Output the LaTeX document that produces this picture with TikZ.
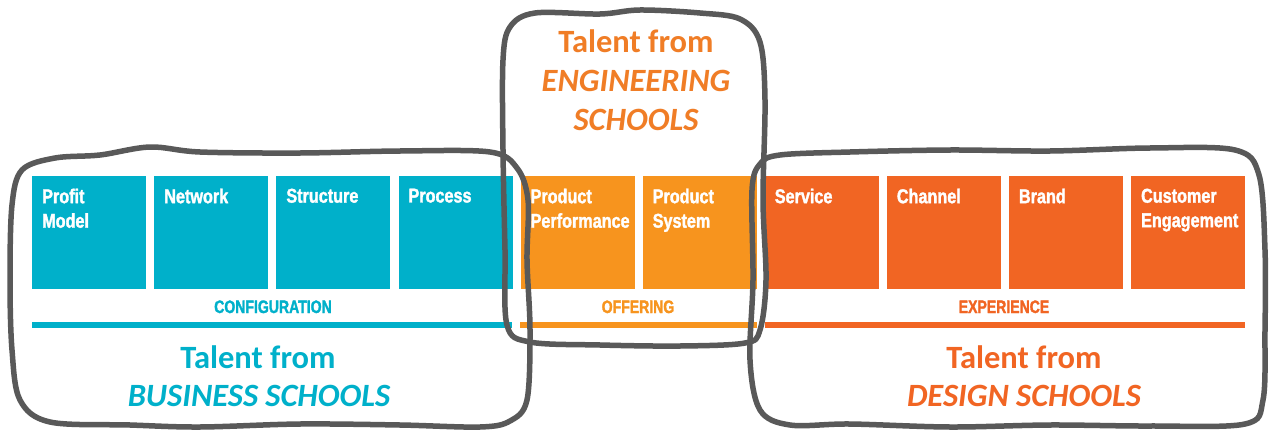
\documentclass[tikz,border=0pt]{standalone}
\usepackage{fontspec}
\setmainfont{Carlito}
\newfontfamily\boxfont[FakeStretch=0.81,FakeBold=1.6]{Liberation Sans Bold}
\newfontfamily\catfont[FakeStretch=0.78,FakeBold=1.6]{Liberation Sans Bold}
\newfontfamily\titlefont{Carlito}
\definecolor{cteal}{RGB}{0,176,202}
\definecolor{clorange}{RGB}{247,148,30}
\definecolor{cdorange}{RGB}{241,101,35}
\definecolor{cengtitle}{RGB}{240,125,38}
\definecolor{cgrey}{RGB}{89,89,89}
\tikzset{
  tile/.style={rectangle, inner sep=0pt, minimum width=114pt, minimum height=113pt, anchor=north west},
  tlabel/.style={anchor=north west, inner sep=0pt, text=white, align=left,
    font={\boxfont\fontsize{20pt}{24.5pt}\selectfont}},
  catlabel/.style={anchor=base, inner sep=0pt, font={\catfont\fontsize{18pt}{20pt}\selectfont}},
  bar/.style={line width=6.5pt},
  title/.style={anchor=base, inner sep=0pt, font={\titlefont\bfseries\fontsize{32.5pt}{38pt}\selectfont}},
  ititle/.style={title, font={\titlefont\bfseries\itshape\fontsize{32.5pt}{38pt}\selectfont}},
  outline/.style={draw=cgrey, line width=5.5pt, line join=round}
}
\begin{document}
\begin{tikzpicture}[x=1pt,y=-1pt]
\useasboundingbox[fill=white] (0,0) rectangle (1269,431);

% tiles
\node[tile, fill=cteal] (t1) at (32,176) {};
\node[tile, fill=cteal] (t2) at (154.1,176) {};
\node[tile, fill=cteal] (t3) at (276.2,176) {};
\node[tile, fill=cteal] (t4) at (398.3,176) {};
\node[tile, fill=clorange] (t5) at (520.4,176) {};
\node[tile, fill=clorange] (t6) at (642.5,176) {};
\node[tile, fill=cdorange] (t7) at (764.6,176) {};
\node[tile, fill=cdorange] (t8) at (886.7,176) {};
\node[tile, fill=cdorange] (t9) at (1008.8,176) {};
\node[tile, fill=cdorange] (t10) at (1130.9,176) {};

% tile labels
\node[tlabel] (l1) at (42,188.5) {Profit\\Model};
\node[tlabel] (l2) at (164.1,188.5) {Network};
\node[tlabel] (l3) at (286.2,188.5) {Structure};
\node[tlabel] (l4) at (408.3,188.5) {Process};
\node[tlabel] (l5) at (530.4,188.5) {Product\\Performance};
\node[tlabel] (l6) at (652.5,188.5) {Product\\System};
\node[tlabel] (l7) at (774.6,188.5) {Service};
\node[tlabel] (l8) at (896.7,188.5) {Channel};
\node[tlabel] (l9) at (1018.8,188.5) {Brand};
\node[tlabel] (l10) at (1140.9,188.5) {Customer\\Engagement};

% category labels
\node[catlabel, text=cteal] (cconf) at (273,313) {CONFIGURATION};
\node[catlabel, text=clorange] (coff) at (638,313) {OFFERING};
\node[catlabel, text=cdorange] (cexp) at (1004,313) {EXPERIENCE};

% bars
\coordinate (b1a) at (32,325); \coordinate (b1b) at (512.3,325);
\coordinate (b2a) at (520.4,325); \coordinate (b2b) at (756.5,325);
\coordinate (b3a) at (764.6,325); \coordinate (b3b) at (1244.9,325);
\draw[bar, cteal] (b1a) -- (b1b);
\draw[bar, clorange] (b2a) -- (b2b);
\draw[bar, cdorange] (b3a) -- (b3b);

% titles
\node[title, text=cteal] (bt1) at (258,368) {Talent from};
\node[ititle, text=cteal] (bt2) at (259,406) {BUSINESS SCHOOLS};
\node[title, text=cengtitle] (et1) at (636,52) {Talent from};
\node[ititle, text=cengtitle] (et2) at (636,91) {ENGINEERING};
\node[ititle, text=cengtitle] (et3) at (636,130) {SCHOOLS};
\node[title, text=cdorange] (dt1) at (1024,368) {Talent from};
\node[ititle, text=cdorange] (dt2) at (1024,406) {DESIGN SCHOOLS};

% hand-drawn outlines
\draw[outline] plot[smooth cycle, tension=0.55] coordinates {
  (12,205) (22,170) (55,158) (100,155) (150,147) (200,152) (300,153) (400,151) (490,152)
  (517,168) (528,200) (527,260) (530,330) (527,400) (510,421) (480,427) (400,425)
  (300,424) (200,427) (130,425) (50,422) (20,400) (12,350) (10,280)};
\draw[outline] plot[smooth cycle, tension=0.55] coordinates {
  (503,60) (510,27) (535,13) (600,14) (640,10) (700,13) (740,19) (760,42) (765,100)
  (763,200) (766,280) (760,330) (745,343) (680,346) (600,345) (530,342) (507,325)
  (505,250) (503,150)};
\draw[outline] plot[smooth cycle, tension=0.55] coordinates {
  (752,190) (760,164) (780,155) (850,152) (950,150) (1050,151) (1150,148) (1235,150)
  (1259,175) (1265,250) (1265,330) (1263,400) (1245,424) (1150,426) (1050,425)
  (950,427) (850,424) (790,425) (760,410) (750,360) (753,280)};
\end{tikzpicture}
\end{document}
